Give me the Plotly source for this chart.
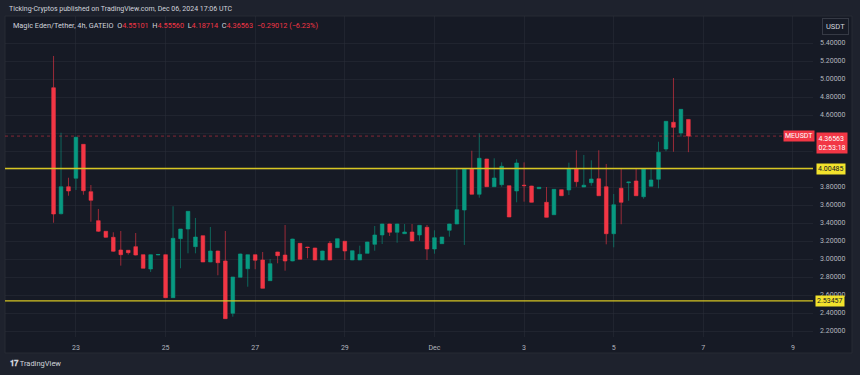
import pandas as pd
import plotly.graph_objects as go

# ---------------- data (MEUSDT, 4h candles, GATEIO) ----------------
start_time = "2024-11-22 12:00"
opens = [4.903, 3.503, 3.803, 3.897, 4.274, 3.748, 3.426, 3.308, 3.241, 3.100,
         3.097, 3.137, 3.048, 2.889, 3.045, 3.048, 2.570, 3.226, 3.333, 3.137,
         3.259, 2.967, 3.089, 2.978, 2.397, 2.797, 2.892, 3.048, 2.989, 2.759,
         3.078, 3.044, 2.978, 3.174, 3.132, 3.122, 2.989, 3.174, 3.126, 3.197,
         2.989, 2.989, 3.063, 3.163, 3.267, 3.389, 3.297, 3.281, 3.300, 3.267,
         3.352, 3.111, 3.170, 3.319, 3.389, 3.544, 4.003, 3.719, 4.111, 3.803,
         3.826, 3.814, 3.756, 3.820, 3.811, 3.781, 3.630, 3.492, 3.770, 3.767,
         4.003, 3.800, 3.848, 3.892, 3.803, 3.281, 3.786, 3.848, 3.867, 3.692,
         3.808, 3.886, 4.222, 4.519, 4.400, 4.55101]
highs = [5.256, 4.403, 3.903, 4.360, 4.276, 3.822, 3.556, 3.310, 3.297, 3.311,
         3.100, 3.289, 3.050, 3.050, 3.052, 3.050, 3.586, 3.333, 3.530, 3.456,
         3.262, 3.356, 3.092, 3.311, 2.800, 3.060, 3.050, 3.050, 3.078, 3.000,
         3.080, 3.378, 3.225, 3.176, 3.135, 3.125, 3.092, 3.200, 3.228, 3.199,
         3.094, 3.148, 3.191, 3.367, 3.391, 3.391, 3.391, 3.389, 3.389, 3.376,
         3.378, 3.319, 3.246, 3.391, 3.997, 4.005, 4.203, 4.397, 4.113, 4.119,
         4.074, 3.816, 4.108, 4.074, 3.813, 3.799, 3.800, 3.776, 3.772, 4.070,
         4.208, 4.156, 4.097, 4.208, 4.056, 3.722, 4.003, 3.857, 4.008, 4.005,
         4.003, 4.303, 4.532, 5.011, 4.665, 4.55560]
lows = [3.403, 3.495, 3.703, 3.767, 3.714, 3.414, 3.300, 3.235, 3.080, 2.926,
        3.048, 3.040, 2.895, 2.856, 3.042, 2.568, 2.568, 2.897, 3.063, 3.063,
        2.965, 2.965, 2.819, 2.335, 2.359, 2.795, 2.692, 2.886, 2.672, 2.757,
        2.952, 2.870, 2.975, 2.995, 3.008, 2.987, 2.987, 2.987, 3.124, 2.989,
        2.987, 2.987, 3.061, 3.092, 3.167, 3.256, 3.181, 3.279, 3.198, 3.203,
        2.989, 3.059, 3.168, 3.248, 3.387, 3.156, 3.717, 3.681, 3.801, 3.801,
        3.803, 3.465, 3.630, 3.637, 3.628, 3.779, 3.461, 3.490, 3.701, 3.711,
        3.803, 3.798, 3.814, 3.701, 3.163, 3.130, 3.386, 3.647, 3.701, 3.670,
        3.806, 3.786, 4.197, 4.192, 4.359, 4.18714]
closes = [3.500, 3.803, 3.756, 4.352, 3.759, 3.652, 3.308, 3.241, 3.086, 3.048,
          3.070, 3.044, 2.897, 3.048, 3.050, 2.570, 3.230, 3.333, 3.530, 3.244,
          2.967, 3.089, 2.959, 2.337, 2.800, 3.056, 3.048, 2.986, 2.674, 2.948,
          3.037, 2.978, 3.222, 2.997, 3.128, 2.989, 3.089, 2.989, 3.226, 3.089,
          3.092, 3.052, 3.189, 3.267, 3.389, 3.297, 3.389, 3.300, 3.200, 3.374,
          3.111, 3.237, 3.244, 3.389, 3.548, 4.003, 3.719, 4.119, 3.803, 3.900,
          4.030, 3.467, 4.067, 3.815, 3.630, 3.797, 3.463, 3.774, 3.703, 4.003,
          3.859, 3.820, 3.889, 3.703, 3.281, 3.603, 3.630, 3.855, 3.703, 4.003,
          3.878, 4.186, 4.530, 4.463, 4.663, 4.36563]

times = pd.date_range(start_time, periods=len(opens), freq="4h")

tick_dates = ["2024-11-23", "2024-11-25", "2024-11-27", "2024-11-29", "2024-12-01",
              "2024-12-03", "2024-12-05", "2024-12-07", "2024-12-09"]
tick_labels = ["23", "25", "27", "29", "Dec", "3", "5", "7", "9"]
price_ticks = [2.2, 2.4, 2.6, 2.8, 3.0, 3.2, 3.4, 3.6, 3.8, 4.0, 4.2, 4.4, 4.6, 4.8, 5.0, 5.2, 5.4]
price_tick_text = ["2.20000", "2.40000", "2.60000", "2.80000", "3.00000", "3.20000", "3.40000",
                   "3.60000", "3.80000", "", "4.20000", "", "4.60000", "4.80000", "5.00000",
                   "5.20000", "5.40000"]

support_level = 2.53457
resistance_level = 4.00485
last_price = 4.36563
countdown = "02:53:18"

# ---------------- styling ----------------
UP = "#089981"
DOWN = "#f23645"
PANE = "#161a25"
OUTER = "#1e222d"
TXT = "#b2b5be"
GRID = "rgba(42,46,57,0.55)"
YEL_LINE = "#d6c523"
YEL_BOX = "#f2e22c"
FONT = "Roboto"

fig = go.Figure()
fig.add_trace(go.Candlestick(
    x=times, open=opens, high=highs, low=lows, close=closes,
    increasing=dict(line=dict(color="rgba(8,153,129,0.6)", width=1), fillcolor=UP),
    decreasing=dict(line=dict(color="rgba(242,54,69,0.6)", width=1), fillcolor=DOWN),
    whiskerwidth=0, showlegend=False, hoverinfo="skip",
))

L, R, T, B = 5, 47, 16, 38
W, H = 860, 375
pw = W - L - R
ph = H - T - B

def px_x(px):
    return (px - L) / pw

def px_y(py):
    return (H - B - py) / ph

shapes = [
    dict(type="rect", xref="paper", yref="paper", x0=px_x(5), x1=px_x(852),
         y0=px_y(353), y1=px_y(16), fillcolor=PANE, line=dict(color="#262a35", width=1),
         layer="below"),
    dict(type="line", xref="paper", yref="y", x0=0, x1=1, y0=resistance_level, y1=resistance_level,
         line=dict(color=YEL_LINE, width=1.4)),
    dict(type="line", xref="paper", yref="y", x0=0, x1=1, y0=support_level, y1=support_level,
         line=dict(color=YEL_LINE, width=1.4)),
    dict(type="line", xref="paper", yref="y", x0=0, x1=px_x(785), y0=last_price, y1=last_price,
         line=dict(color="rgba(242,54,69,0.5)", width=1, dash="dot")),
]

annotations = [
    dict(xref="paper", yref="paper", x=px_x(7), y=px_y(9), xanchor="left", yanchor="middle",
         text="Ticking-Cryptos published on TradingView.com, Dec 06, 2024 17:06 UTC",
         showarrow=False, font=dict(family=FONT, size=7, color="#d1d4dc")),
    dict(xref="paper", yref="paper", x=px_x(11), y=px_y(25), xanchor="left", yanchor="middle",
         text=("Magic Eden/Tether, 4h, GATEIO  O<span style='color:#f23645'>4.55101</span>"
               "  H<span style='color:#f23645'>4.55560</span>"
               "  L<span style='color:#f23645'>4.18714</span>"
               "  C<span style='color:#f23645'>4.36563  −0.29012 (−6.23%)</span>"),
         showarrow=False, font=dict(family=FONT, size=7.3, color="#d1d4dc")),
    dict(xref="paper", yref="paper", x=px_x(835), y=px_y(26), xanchor="center", yanchor="middle",
         text="USDT", showarrow=False, font=dict(family=FONT, size=7.5, color="#d1d4dc"),
         bgcolor=PANE, bordercolor="#363a45", borderwidth=1, borderpad=3),
    dict(xref="paper", yref="y", x=px_x(815), y=last_price, xanchor="right", yanchor="middle",
         text="MEUSDT", showarrow=False, font=dict(family=FONT, size=7, color="#ffffff"),
         bgcolor=DOWN, borderpad=1),
    dict(xref="paper", yref="paper", x=px_x(816), y=px_y(131.5), xanchor="left", yanchor="top",
         text=f"{last_price:.5f}<br>{countdown}", showarrow=False, align="left",
         font=dict(family=FONT, size=7, color="#ffffff"), bgcolor=DOWN, borderpad=1.5),
    dict(xref="paper", yref="y", x=px_x(816), y=resistance_level, xanchor="left", yanchor="middle",
         text=f"{resistance_level:.5f}", showarrow=False,
         font=dict(family=FONT, size=7, color="#131722"), bgcolor=YEL_BOX, borderpad=1),
    dict(xref="paper", yref="y", x=px_x(815), y=support_level, xanchor="left", yanchor="middle",
         text=f"{support_level:.5f}", showarrow=False,
         font=dict(family=FONT, size=7, color="#131722"), bgcolor=YEL_BOX, borderpad=1),
    dict(xref="paper", yref="paper", x=px_x(8), y=px_y(363), xanchor="left", yanchor="middle",
         text="<b>𝟏𝟕</b> TradingView", showarrow=False,
         font=dict(family=FONT, size=7.5, color="#d1d4dc")),
]

fig.update_layout(
    width=W, height=H,
    margin=dict(l=L, r=R, t=T, b=B),
    paper_bgcolor=OUTER, plot_bgcolor=PANE,
    shapes=shapes, annotations=annotations,
    boxgap=0.3,
    xaxis=dict(
        type="date", range=["2024-11-21 10:00", "2024-12-09 10:44"],
        rangeslider=dict(visible=False),
        tickvals=tick_dates, ticktext=tick_labels,
        showgrid=True, gridcolor=GRID, gridwidth=1,
        zeroline=False, showline=False, ticks="",
        ticklabelstandoff=5,
        tickfont=dict(family=FONT, size=7, color=TXT),
        fixedrange=True,
    ),
    yaxis=dict(
        side="right", range=[2.1333, 5.7],
        tickvals=price_ticks, ticktext=price_tick_text,
        showgrid=True, gridcolor=GRID, gridwidth=1,
        zeroline=False, showline=False, ticks="",
        ticklabelstandoff=6,
        tickfont=dict(family=FONT, size=7, color=TXT),
        fixedrange=True,
    ),
)

fig.write_html("out.html", config={"displayModeBar": False},
               post_script="document.body.style.margin='0px';document.body.style.overflow='hidden';")
